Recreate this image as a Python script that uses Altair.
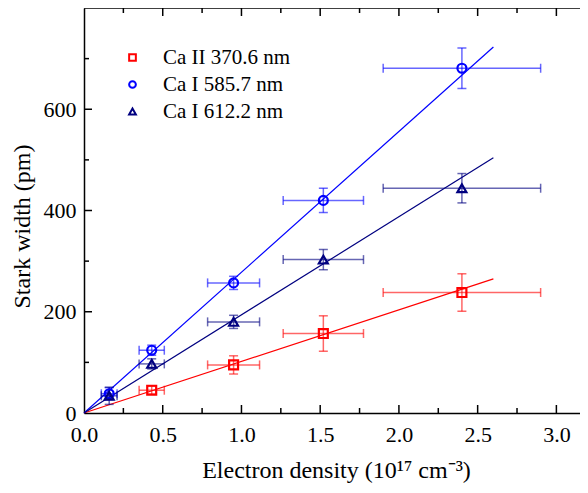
import altair as alt
import pandas as pd

# ---- data ----
series = ["Ca II 370.6 nm", "Ca I 585.7 nm", "Ca I 612.2 nm"]

density_ca2_3706 = [0.43, 0.95, 1.52, 2.40]
density_err_ca2_3706 = [0.08, 0.165, 0.255, 0.50]
width_ca2_3706 = [45, 95, 157, 238]
err_ca2_3706 = [8, 18, 35, 37]

density_ca1 = [0.16, 0.43, 0.95, 1.52, 2.40]
density_err_ca1 = [0.05, 0.08, 0.165, 0.255, 0.50]
width_ca1_5857 = [38, 124, 257, 420, 681]
err_ca1_5857 = [12, 10, 13, 24, 40]
width_ca1_6122 = [34, 97, 180, 303, 444]
err_ca1_6122 = [17, 10, 13, 20, 29]

fit_x = [0.0, 2.6]
fit_ca2_3706 = [0, 265]
fit_ca1_5857 = [0, 723]
fit_ca1_6122 = [0, 504]

x_labels = [0.0, 0.5, 1.0, 1.5, 2.0, 2.5, 3.0]
x_minor = [0.25, 0.75, 1.25, 1.75, 2.25, 2.75]
y_labels = [0, 200, 400, 600]
y_major_inner = [200, 400, 600]
y_minor = [100, 300, 500, 700]

colors = ["#ff0000", "#0000ff", "#000080"]
shapes = ["square", "circle", "triangle-up"]

W, H = 496, 405
FONT = "Liberation Serif"
color_of = dict(zip(series, colors))

rows = []
for s, xs, dxs, ys, es in [
    (series[0], density_ca2_3706, density_err_ca2_3706, width_ca2_3706, err_ca2_3706),
    (series[1], density_ca1, density_err_ca1, width_ca1_5857, err_ca1_5857),
    (series[2], density_ca1, density_err_ca1, width_ca1_6122, err_ca1_6122),
]:
    for x, dx, y, dy in zip(xs, dxs, ys, es):
        rows.append({"series": s, "col": color_of[s], "x": x, "y": y,
                     "xlo": x - dx, "xhi": x + dx, "ylo": y - dy, "yhi": y + dy})
pts = pd.DataFrame(rows)

fit_rows = []
for s, fy in zip(series, [fit_ca2_3706, fit_ca1_5857, fit_ca1_6122]):
    for x, y in zip(fit_x, fy):
        fit_rows.append({"series": s, "col": color_of[s], "x": x, "y": y})
fits = pd.DataFrame(fit_rows)

xscale = alt.Scale(domain=[0, 3.15], nice=False, zero=False)
yscale = alt.Scale(domain=[0, 800], nice=False)

xaxis = alt.Axis(values=x_labels, format=".1f", ticks=False, grid=False,
                 labelFlush=False, labelPadding=11, titlePadding=13, titleX=252)
yaxis = alt.Axis(values=y_labels, format="d", ticks=False, grid=False,
                 labelFlush=False, labelPadding=8, titlePadding=9, titleY=218)

X = alt.X("x:Q", scale=xscale, axis=xaxis, title="Electron density (10¹⁷ cm⁻³)")
Y = alt.Y("y:Q", scale=yscale, axis=yaxis, title="Stark width (pm)")

color_scale = alt.Scale(domain=series, range=colors)
shape_scale = alt.Scale(domain=series, range=shapes)

legend = alt.Legend(orient="none", legendX=38, legendY=39, title=None,
                    labelFont=FONT, labelFontSize=21, labelColor="black",
                    symbolSize=45, symbolStrokeWidth=2, rowPadding=5,
                    labelOffset=20, padding=0)

STROKE = alt.Stroke("col:N", scale=None)
FILL = alt.Fill("col:N", scale=None)

base_pts = alt.Chart(pts)

lines = alt.Chart(fits).mark_line(strokeWidth=1.2).encode(
    x=X, y=Y, stroke=STROKE, detail="series:N")

err_opacity = 0.6
vbars = base_pts.mark_rule(strokeWidth=1.5, opacity=err_opacity).encode(
    x="x:Q", y="ylo:Q", y2="yhi:Q", stroke=STROKE)
hbars = base_pts.mark_rule(strokeWidth=1.5, opacity=err_opacity).encode(
    y="y:Q", x="xlo:Q", x2="xhi:Q", stroke=STROKE)


def cap(orient, xf, yf):
    return base_pts.mark_tick(orient=orient, size=9, thickness=1.5,
                              opacity=err_opacity).encode(x=xf, y=yf, fill=FILL)


caps = [cap("horizontal", "x:Q", "ylo:Q"), cap("horizontal", "x:Q", "yhi:Q"),
        cap("vertical", "xlo:Q", "y:Q"), cap("vertical", "xhi:Q", "y:Q")]

points = base_pts.mark_point(filled=False, size=80, strokeWidth=2.2, opacity=1).encode(
    x=X, y=Y,
    color=alt.Color("series:N", scale=color_scale, legend=legend, sort=series),
    shape=alt.Shape("series:N", scale=shape_scale, legend=legend, sort=series),
)

# frame top line and inward ticks
top_line = alt.Chart(pd.DataFrame({"x": [0]})).mark_rule(color="black", strokeWidth=1.5).encode(
    x=alt.value(0), x2=alt.value(W), y=alt.value(0))


def xticks(vals, y0, y1):
    return alt.Chart(pd.DataFrame({"x": vals})).mark_rule(color="black", strokeWidth=1.5).encode(
        x=alt.X("x:Q", scale=xscale), y=alt.value(y0), y2=alt.value(y1))


def yticks(vals, length):
    return alt.Chart(pd.DataFrame({"y": vals})).mark_rule(color="black", strokeWidth=1.5).encode(
        y=alt.Y("y:Q", scale=yscale), x=alt.value(0), x2=alt.value(length))


ticks = [
    xticks(x_labels[1:], H, H - 8), xticks(x_minor, H, H - 5),
    xticks(x_labels[1:], 0, 8), xticks(x_minor, 0, 5),
    yticks(y_major_inner, 8), yticks(y_minor, 5),
]

chart = alt.layer(
    lines, vbars, hbars, *caps, points, top_line, *ticks
).properties(
    width=W, height=H,
    autosize=alt.AutoSizeParams(type="none"),
    padding={"left": 76, "top": 0, "right": 0, "bottom": 72},
).configure_view(stroke=None).configure_axis(
    labelFont=FONT, labelFontSize=22, labelColor="black",
    titleFont=FONT, titleFontSize=24, titleFontWeight="normal", titleColor="black",
    domainColor="black", domainWidth=1.5,
).configure_legend(labelLimit=300)

chart.save("out.html", embed_options={"renderer": "svg", "actions": False})
